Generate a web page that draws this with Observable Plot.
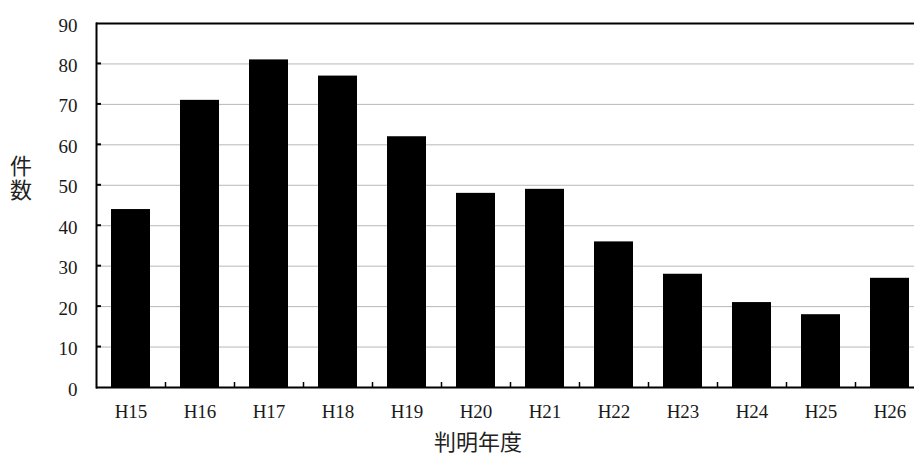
<!DOCTYPE html>
<html><head><meta charset="utf-8">
<script src="https://cdn.jsdelivr.net/npm/d3@7"></script>
<script src="https://cdn.jsdelivr.net/npm/@observablehq/plot@0.6"></script>
<style>
html,body{margin:0;padding:0;overflow:hidden;background:#fff;width:914px;height:462px}
#chart{position:relative;width:914px;height:462px;overflow:hidden}
#chart svg{max-width:none !important;width:925px;height:462px}
</style></head><body><div id="chart"></div>
<script>
const years = ["H15","H16","H17","H18","H19","H20","H21","H22","H23","H24","H25","H26"];
const counts = [44,71,81,77,62,48,49,36,28,21,18,27];
const yTicks = [0,10,20,30,40,50,60,70,80,90];
const yLabel = "件数";
const xLabel = "判明年度";

const data = years.map((y,i)=>({year:y,count:counts[i]}));
const serif = "Liberation Serif, DejaVu Serif, serif";
const cjk = "Noto Sans CJK JP, sans-serif";

const chart = Plot.plot({
  width: 925, height: 462,
  marginLeft: 96, marginRight: 0, marginTop: 23, marginBottom: 75,
  style: {background: "#fff", color: "#000", overflow: "visible", maxWidth: "none"},
  x: {domain: years, paddingInner: 0.43, paddingOuter: 0.215, label: null},
  y: {domain: [0, 90], label: null},
  marks: [
    Plot.gridY(yTicks.filter(t => t > 0 && t < 90), {stroke: "#b8b8b8", strokeOpacity: 1}),
    Plot.barY(data, {x: "year", y: "count", fill: "#000"}),
    Plot.axisY(yTicks, {tickSize: 0, tickPadding: 19, dy: 2, fontSize: 19, fontFamily: serif, label: null}),
    Plot.axisX({tickSize: 0, tickPadding: 17, fontSize: 19, fontFamily: serif, label: null}),
    Plot.ruleY([0, 90], {stroke: "#000", strokeWidth: 2}),
    Plot.frame({anchor: "left", stroke: "#000", strokeWidth: 2})
  ]
});
document.getElementById("chart").appendChild(chart);

const svg = d3.select(chart);
svg.selectAll("text").attr("font-family", serif).style("font-family", serif)
  .attr("font-size", 19).style("font-size", "19px").attr("fill", "#1a1a1a");
const xs = chart.scale("x");
const ys = chart.scale("y");
const x0 = 96;
const gap = (xs.step - xs.bandwidth) / 2;
// y ticks (inward)
yTicks.filter(t => t > 0 && t < 90).forEach(t => {
  const yy = ys.apply(t);
  svg.append("line").attr("x1", x0).attr("x2", x0 + 5).attr("y1", yy).attr("y2", yy)
    .attr("stroke", "#000").attr("stroke-width", 2);
});
// x ticks at band boundaries (inward)
const yb = ys.apply(0);
years.slice(1).forEach(yr => {
  const xx = Math.round(xs.apply(yr) - gap) + 0.5;
  svg.append("line").attr("x1", xx).attr("x2", xx).attr("y1", yb).attr("y2", yb - 5)
    .attr("stroke", "#000").attr("stroke-width", 1.5);
});
// axis titles
svg.append("text").attr("x", 478).attr("y", 440).attr("text-anchor", "middle")
  .attr("dominant-baseline", "central").style("font-family", cjk).style("font-size", "22px")
  .attr("fill", "#222").text(xLabel);
svg.append("text").attr("x", 21).attr("y", 179).attr("text-anchor", "middle")
  .style("writing-mode", "vertical-rl").style("text-orientation", "upright")
  .style("font-family", cjk).style("font-size", "22px").style("letter-spacing", "2px")
  .attr("fill", "#222").text(yLabel);
</script></body></html>
